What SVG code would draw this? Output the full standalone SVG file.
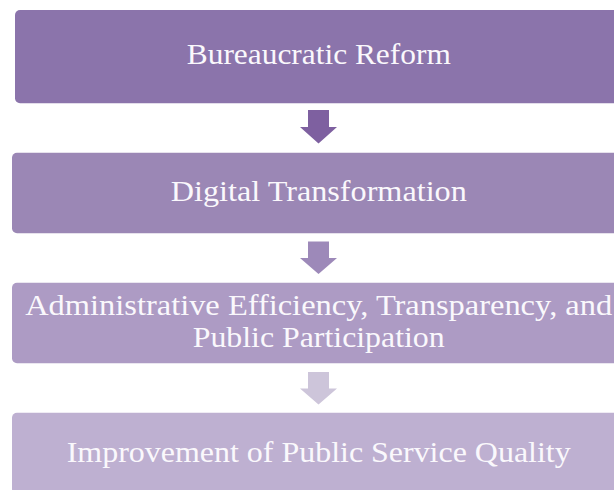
<svg xmlns="http://www.w3.org/2000/svg" width="614" height="490" viewBox="0 0 614 490">
<style>
.lbl{font-family:"Liberation Serif","Times New Roman",serif;font-size:30px;fill:#FAF8FC;text-anchor:middle}
</style>
<rect width="614" height="490" fill="#FFFFFF"/>
<g id="connectors">
<path id="arrow1" d="M308 110 H329 V127 H337 L318.5 143.5 L300 127 H308 Z" fill="#7E60A0"/>
<path id="arrow2" d="M308 241.5 H329 V258 H337 L318.5 274 L300 258 H308 Z" fill="#9D89B9"/>
<path id="arrow3" d="M308 372 H329 V388.5 H337 L318.5 404.5 L300 388.5 H308 Z" fill="#CDC5DA"/>
</g>
<g id="node1">
<rect x="15" y="10" width="608" height="93.3" rx="5" fill="#8B74AB"/>
<text class="lbl" x="318.8" y="64" textLength="264" lengthAdjust="spacingAndGlyphs">Bureaucratic Reform</text>
</g>
<g id="node2">
<rect x="12" y="152.7" width="614" height="80.6" rx="5" fill="#9B87B5"/>
<text class="lbl" x="318.8" y="201" textLength="296" lengthAdjust="spacingAndGlyphs">Digital Transformation</text>
</g>
<g id="node3">
<rect x="12" y="282.7" width="614" height="80.6" rx="5" fill="#AD9BC4"/>
<text class="lbl" x="318.7" y="315" textLength="587" lengthAdjust="spacingAndGlyphs">Administrative Efficiency, Transparency, and</text>
<text class="lbl" x="318.7" y="347" textLength="252" lengthAdjust="spacingAndGlyphs">Public Participation</text>
</g>
<g id="node4">
<rect x="12" y="412.7" width="614" height="81" rx="5" fill="#BEB0D1"/>
<text class="lbl" x="318.7" y="461.5" textLength="504" lengthAdjust="spacingAndGlyphs">Improvement of Public Service Quality</text>
</g>
</svg>
